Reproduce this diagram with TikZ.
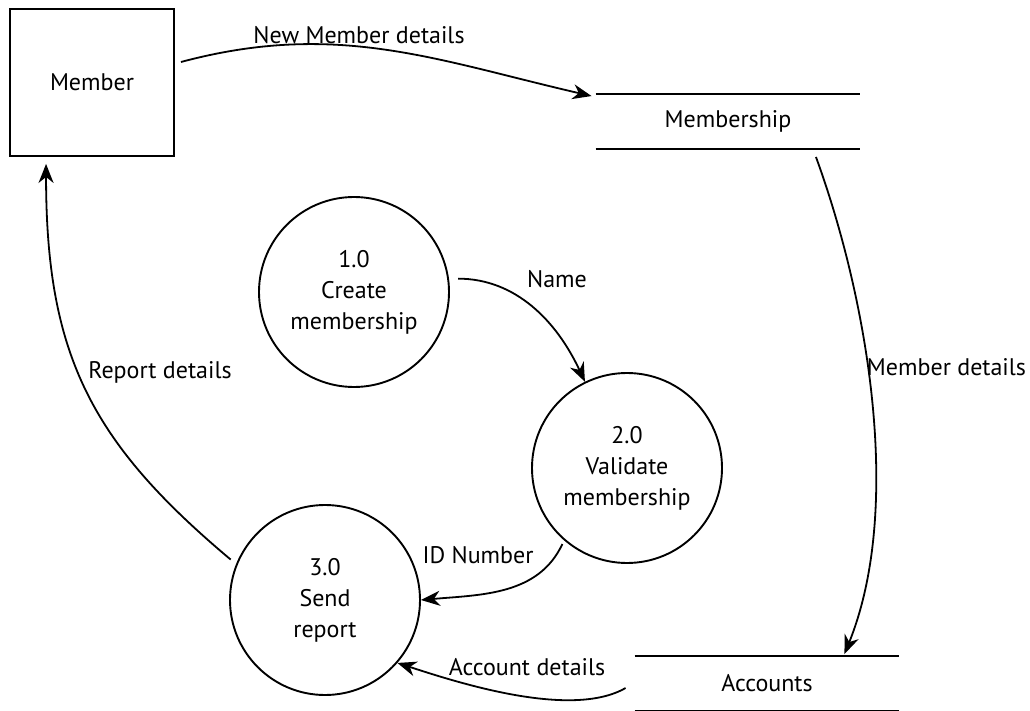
\documentclass[tikz,border=0pt]{standalone}
\usepackage{fontspec}
\setmainfont{PT Sans}
\usepackage{tikz}
\usetikzlibrary{shapes}
\usetikzlibrary{arrows.meta}
\tikzset{>={Stealth[length=19pt,width=15pt,inset=6pt]}}

\begin{document}
\begin{tikzpicture}[x=1pt, y=-1pt, line width=1.9pt,
      font=\fontsize{24}{31}\selectfont,
      entity/.style={draw, rectangle, minimum width=164pt, minimum height=147pt},
      store/.style={rectangle, minimum width=263pt, minimum height=53pt},
      proc/.style={draw, circle, minimum size=190pt, inner sep=0pt, align=center},
      flow/.style={->, line width=1.8pt},
      flowlabel/.style={inner sep=0pt, text height=17pt, text depth=0pt}]
      \useasboundingbox (0,0) rectangle (1030,711);

      % external entity and data stores
      \node [entity] (member) at (92,82.5) {Member};
      \node [store] (membership) at (728,121.5) {Membership};
      \draw (membership.north west) -- (membership.north east);
      \draw (membership.south west) -- (membership.south east);
      \node [store] (accounts) at (767,683.5) {Accounts};
      \draw (accounts.north west) -- (accounts.north east);
      \draw (accounts.south west) -- (accounts.south east);

      % processes
      \node [proc] (create) at (354,292) {1.0\\Create\\membership};
      \node [proc] (validate) at (627,468) {2.0\\Validate\\membership};
      \node [proc] (send) at (325,600) {3.0\\Send\\report};

      % data flows
      \draw [flow] ([shift={(6,-20.5)}]member.east) to[out=15,in=167]
            ([shift={(-4,2)}]membership.north west);
      \node [flowlabel] (lnew) at (359,35) {New Member details};

      \draw [flow] ([shift={(-44.5,8)}]membership.south east) to[out=-70,in=68,looseness=0.8]
            ([shift={(-55,-2)}]accounts.north east);
      \node [flowlabel, anchor=west] (lmember) at (866,367) {Member details};

      \draw [flow, shorten <=9pt] (create.8) to[out=0,in=115] (validate.116);
      \node [flowlabel] (lname) at (557,279) {Name};

      \draw [flow, shorten <=4pt] (validate.229) to[out=-115,in=5] (send.east);
      \node [flowlabel] (lid) at (478,555) {ID Number};

      \draw [flow] ([shift={(-9,4.5)}]accounts.west) to[out=-150,in=-18,looseness=0.7] (send.-41);
      \node [flowlabel] (lacc) at (527,667) {Account details};

      \draw [flow, shorten <=7pt] (send.158) to[out=140,in=-90,looseness=1.1]
            ([shift={(37,7)}]member.south west);
      \node [flowlabel] (lreport) at (160,370) {Report details};
\end{tikzpicture}
\end{document}
